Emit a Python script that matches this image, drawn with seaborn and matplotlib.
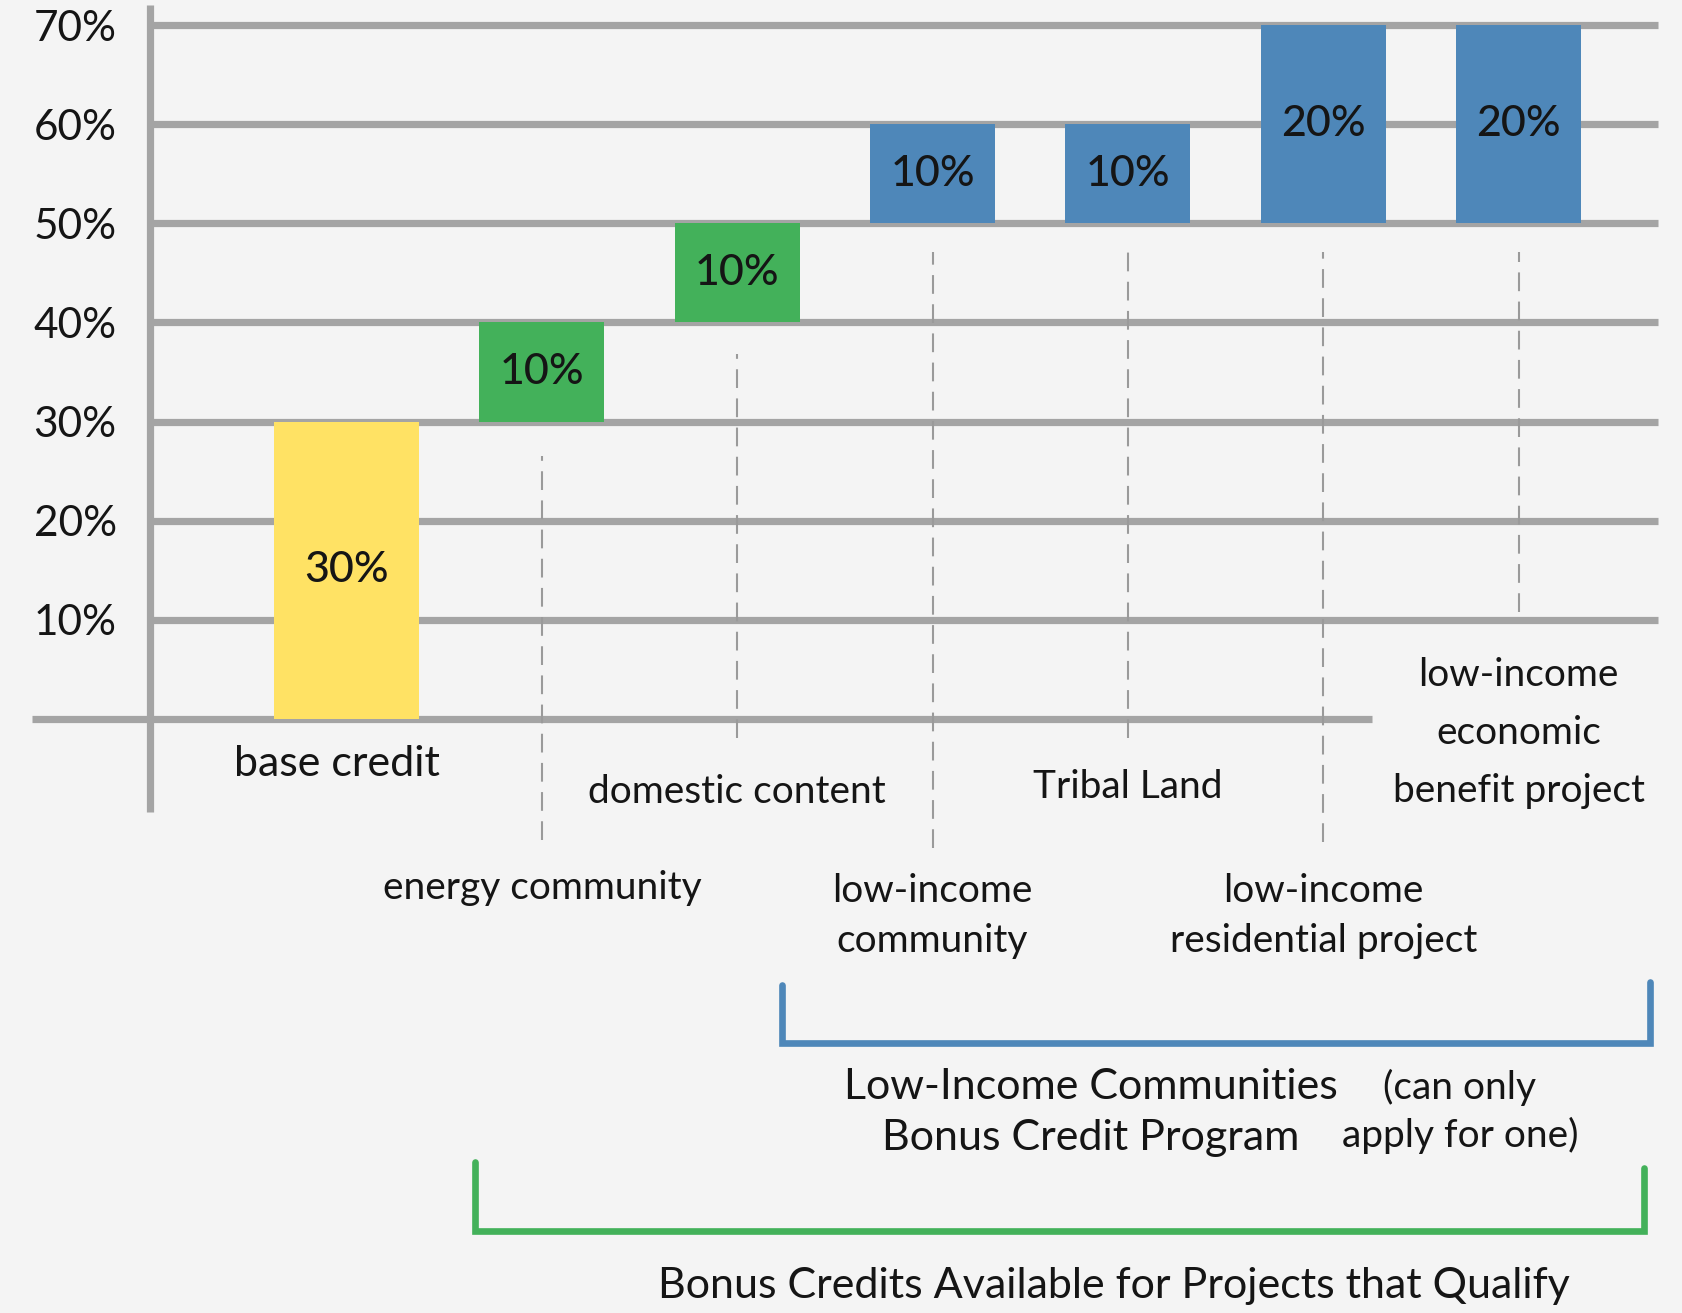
import matplotlib
matplotlib.use("Agg")
import matplotlib.pyplot as plt
import pandas as pd
import seaborn as sns

# ---- data -------------------------------------------------------------
categories = [
    "base credit",
    "energy community",
    "domestic content",
    "low-income community",
    "Tribal Land",
    "low-income residential project",
    "low-income economic benefit project",
]
category_labels = [
    "base credit",
    "energy community",
    "domestic content",
    "low-income\ncommunity",
    "Tribal Land",
    "low-income\nresidential project",
    "low-income\neconomic\nbenefit project",
]
credit_pct = [30, 10, 10, 10, 10, 20, 20]      # size of each credit
start_pct = [0, 30, 40, 50, 50, 50, 50]        # level each credit stacks on
bar_colors = ["#FFE264", "#43B15A", "#43B15A",
              "#4E87B9", "#4E87B9", "#4E87B9", "#4E87B9"]
y_ticks = [10, 20, 30, 40, 50, 60, 70]
y_tick_labels = ["10%", "20%", "30%", "40%", "50%", "60%", "70%"]
bar_value_labels = [f"{v}%" for v in credit_pct]

group_low_income = "Low-Income Communities\nBonus Credit Program"
group_low_income_note = "(can only\napply for one)"
group_bonus = "Bonus Credits Available for Projects that Qualify"

df = pd.DataFrame({"category": categories, "credit": credit_pct, "start": start_pct})

# ---- style ------------------------------------------------------------
BG = "#F4F4F4"
GRID = "#A4A4A4"
TXT = "#151515"
sns.set_style("white", {"axes.facecolor": BG, "figure.facecolor": BG})
plt.rcParams["font.family"] = ["Lato", "DejaVu Sans"]

fig = plt.figure(figsize=(16.83, 13.13), dpi=100)
ax = fig.add_axes([0.08913, 0.43747, 0.89602, 0.55849])

sns.barplot(data=df, x="category", y="credit", order=categories,
            bottom=df["start"].values, width=0.64, color=bar_colors[0],
            saturation=1, errorbar=None, linewidth=0, ax=ax, zorder=3)

for patch, c in zip(ax.patches, bar_colors):
    patch.set_facecolor(c)
# the base credit column is drawn a little wider
base = ax.patches[0]
cx = base.get_x() + base.get_width() / 2
base.set_width(0.742)
base.set_x(cx - 0.371)

ax.bar_label(ax.containers[0], labels=bar_value_labels, label_type="center",
             fontsize=31, color=TXT, fontweight="medium", zorder=4)

ax.set_xlim(-1.006, 6.714)
ax.set_ylim(-2, 72)
ax.set_xlabel("")
ax.set_ylabel("")
ax.set_xticks([])
ax.set_yticks(y_ticks)
ax.set_yticklabels(y_tick_labels, fontsize=30.5, color=TXT)
ax.tick_params(axis="y", length=0, pad=24)
for s in ax.spines.values():
    s.set_visible(False)

# horizontal rules at each tick
ax.hlines(y_ticks, -1.006, 6.714, color=GRID, lw=5.2, zorder=1, clip_on=False)
# baseline and vertical axis
ax.plot([-1.611, 5.25], [0, 0], color=GRID, lw=5.2, zorder=1,
        clip_on=False, solid_capstyle="butt")
ax.plot([-1.006, -1.006], [-9.4, 72], color=GRID, lw=5.2, zorder=2,
        clip_on=False, solid_capstyle="butt")

# dashed guides from each bonus bar down to its label
guide_top = [26.5, 36.8, 47.1, 47.1, 47.1, 47.1]
guide_bottom = [-12.2, -1.9, -13.0, -1.9, -12.4, 10.8]
for i, (t, b) in enumerate(zip(guide_top, guide_bottom), start=1):
    ax.plot([i, i], [b, t], color="#9A9A9A", lw=1.5, dashes=(9, 5),
            zorder=2, clip_on=False)

# category labels
label_x = [-0.05, 1, 2, 3, 4, 5, 6]
label_y = [-4.6, -17.1, -7.4, -19.9, -6.9, -19.9, -1.45]
label_size = [31, 28, 28, 28, 28, 28, 28]
label_ls = [1.2, 1.2, 1.2, 1.47, 1.2, 1.47, 1.75]
for x, lab, y, fs, ls in zip(label_x, category_labels, label_y, label_size, label_ls):
    ax.text(x, y, lab, ha="center", va="center", fontsize=fs, color=TXT,
            linespacing=ls)

# group brackets
blue = "#4E87B9"
green = "#43B15A"
ax.plot([2.229, 2.229, 6.674, 6.674], [-26.9, -32.7, -32.7, -26.6],
        color=blue, lw=4.8, clip_on=False, solid_joinstyle="miter")
ax.plot([0.657, 0.657, 6.643, 6.643], [-44.7, -51.7, -51.7, -45.3],
        color=green, lw=4.8, clip_on=False, solid_joinstyle="miter")

ax.text(3.81, -39.7, group_low_income, ha="center", va="center",
        fontsize=31, color=TXT, linespacing=1.43)
ax.text(5.70, -39.6, group_low_income_note, ha="center", va="center",
        fontsize=28, color=TXT, linespacing=1.35)
ax.text(3.93, -57.2, group_bonus, ha="center", va="center",
        fontsize=31, color=TXT)

fig.savefig("out.png", dpi=100, facecolor=BG)
